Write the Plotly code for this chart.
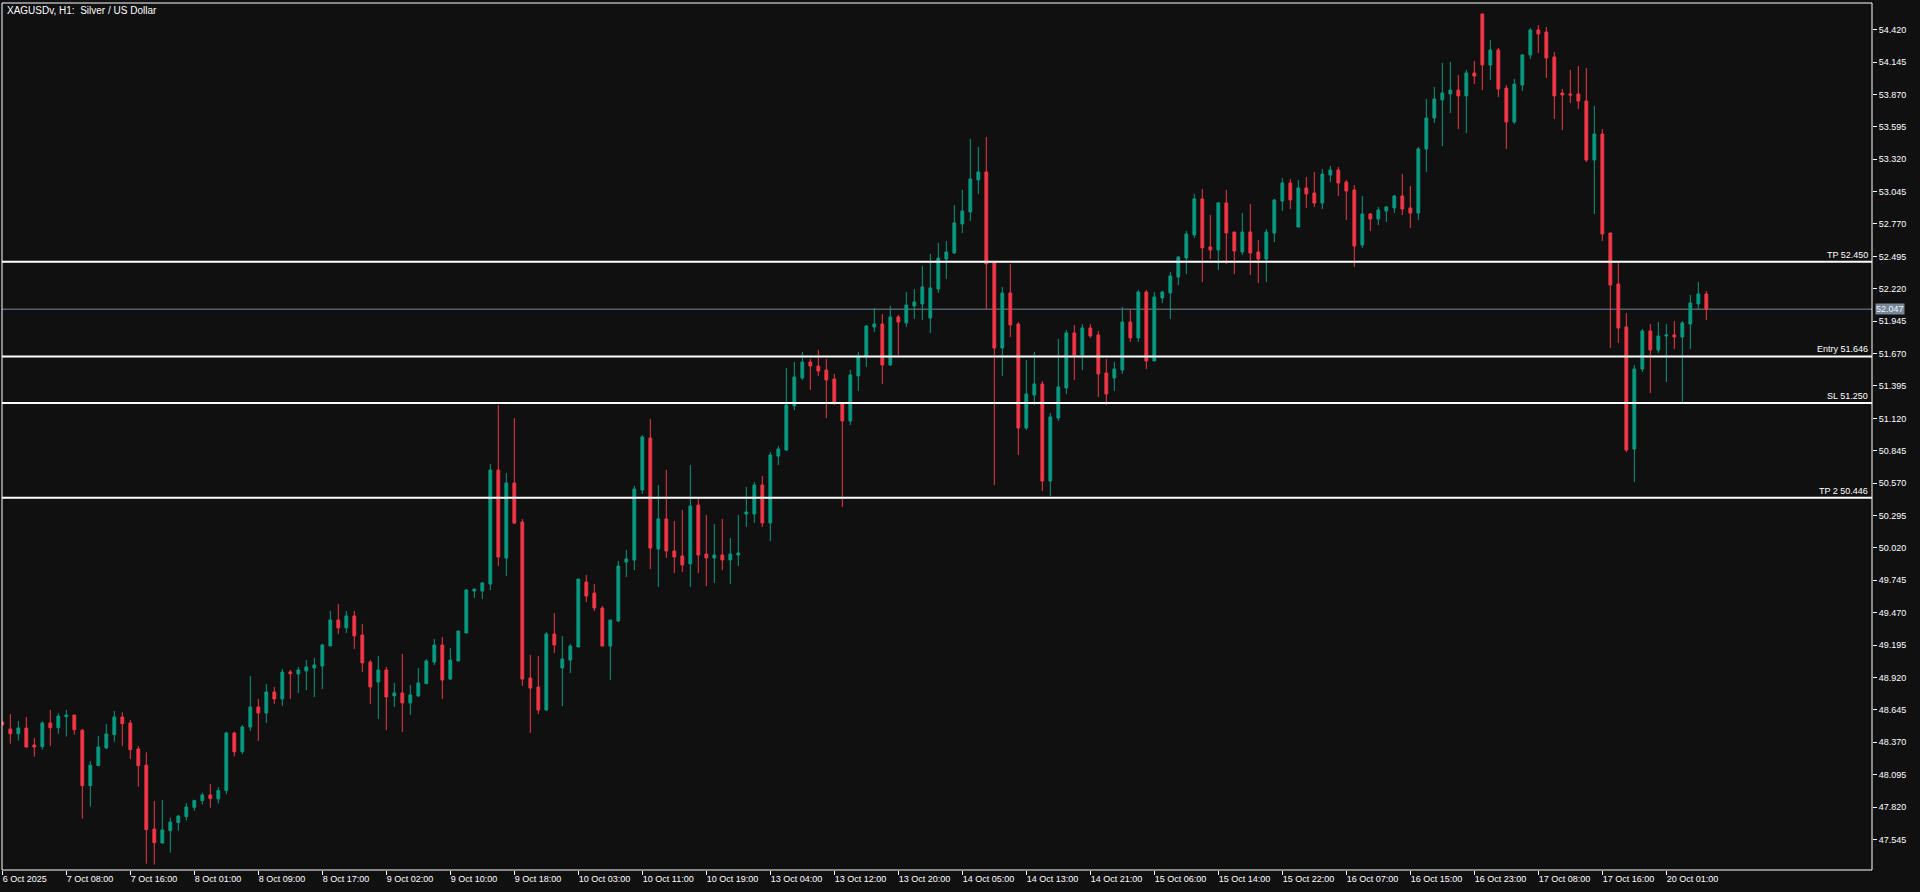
import plotly.graph_objects as go

title_text = "XAGUSDv, H1:\u00a0 Silver / US Dollar"

opens = [48.542, 48.483, 48.443, 48.491, 48.347, 48.333, 48.534, 48.494, 48.588, 48.602,
         48.472, 48.002, 48.172, 48.322, 48.435, 48.585, 48.534, 48.313, 48.175, 47.634,
         47.515, 47.620, 47.688, 47.739, 47.818, 47.875, 47.923, 47.890, 47.960, 48.449,
         48.290, 48.500, 48.670, 48.619, 48.797, 48.738, 48.967, 48.950, 48.976, 49.001,
         49.018, 49.188, 49.409, 49.341, 49.443, 49.281, 49.052, 48.882, 48.984, 48.764,
         48.789, 48.704, 48.764, 48.868, 49.051, 49.196, 48.907, 49.060, 49.298, 49.654,
         49.654, 49.714, 50.681, 49.934, 50.571, 50.240, 48.916, 48.839, 48.644, 49.289,
         49.001, 49.068, 49.179, 49.731, 49.637, 49.510, 49.187, 49.400, 49.900, 49.917,
         50.512, 50.953, 50.011, 50.266, 49.994, 49.952, 49.884, 50.384, 49.968, 49.935,
         49.960, 49.918, 49.960, 50.308, 50.308, 50.554, 50.232, 50.800, 50.851, 51.225,
         51.463, 51.598, 51.564, 51.530, 51.454, 51.250, 51.098, 51.480, 51.641, 51.896,
         51.921, 51.573, 51.981, 51.930, 52.074, 52.091, 51.972, 52.218, 52.473, 52.524,
         52.770, 52.872, 53.144, 53.212, 52.439, 51.717, 52.184, 51.921, 51.038, 51.318,
         51.412, 50.588, 51.123, 51.378, 51.845, 51.658, 51.887, 51.828, 51.505, 51.463,
         51.531, 51.938, 51.803, 52.193, 51.607, 52.142, 52.185, 52.320, 52.482, 52.677,
         52.983, 52.575, 52.550, 52.949, 52.702, 52.533, 52.702, 52.533, 52.473, 52.694,
         52.965, 53.118, 52.744, 53.076, 53.033, 52.948, 53.186, 53.228, 53.126, 53.059,
         52.592, 52.855, 52.812, 52.880, 52.906, 53.008, 52.906, 52.863, 53.407, 53.670,
         53.823, 53.874, 53.907, 53.857, 54.052, 54.553, 54.120, 54.247, 53.924, 53.636,
         53.950, 54.205, 54.417, 54.400, 54.188, 53.882, 53.874, 53.874, 53.814, 53.313,
         53.534, 52.694, 52.261, 51.896, 50.860, 51.539, 51.862, 51.700, 51.819, 51.828,
         51.811, 51.921, 52.091, 52.176]

highs = [48.548, 48.610, 48.551, 48.585, 48.407, 48.548, 48.644, 48.619, 48.644, 48.602,
         48.483, 48.211, 48.424, 48.525, 48.636, 48.624, 48.559, 48.339, 48.285, 47.872,
         47.880, 47.730, 47.753, 47.855, 47.877, 47.942, 48.016, 47.990, 48.458, 48.460,
         48.517, 48.933, 48.738, 48.865, 48.840, 48.993, 48.984, 49.010, 49.069, 49.086,
         49.205, 49.485, 49.545, 49.485, 49.485, 49.375, 49.069, 49.103, 49.010, 48.874,
         49.120, 48.857, 49.001, 49.077, 49.247, 49.264, 49.170, 49.315, 49.671, 49.671,
         49.731, 50.732, 51.233, 50.656, 51.123, 50.265, 49.111, 49.102, 49.306, 49.467,
         49.272, 49.204, 49.756, 49.790, 49.714, 49.527, 49.408, 49.909, 50.002, 50.546,
         50.979, 51.115, 50.554, 50.682, 50.249, 50.342, 50.724, 50.435, 50.300, 50.223,
         50.266, 50.104, 50.300, 50.537, 50.580, 50.631, 50.834, 50.885, 51.547, 51.598,
         51.683, 51.624, 51.700, 51.624, 51.497, 51.250, 51.531, 51.683, 51.913, 52.057,
         52.006, 52.074, 51.998, 52.193, 52.218, 52.414, 52.515, 52.609, 52.626, 52.931,
         53.059, 53.492, 53.424, 53.509, 52.439, 52.235, 52.431, 51.938, 51.616, 51.683,
         51.437, 51.166, 51.794, 51.870, 51.913, 51.921, 51.921, 51.862, 51.624, 51.599,
         52.066, 52.040, 52.210, 52.210, 52.193, 52.202, 52.363, 52.499, 52.711, 53.025,
         53.067, 52.847, 52.957, 53.059, 52.702, 52.864, 52.940, 52.634, 52.727, 52.982,
         53.160, 53.152, 53.143, 53.169, 53.211, 53.237, 53.262, 53.254, 53.143, 53.101,
         53.008, 52.863, 52.914, 52.923, 53.016, 53.194, 53.093, 53.424, 53.831, 53.933,
         54.137, 54.145, 54.035, 54.077, 54.154, 54.553, 54.332, 54.264, 53.950, 54.001,
         54.213, 54.434, 54.459, 54.442, 54.230, 53.916, 54.077, 54.111, 54.094, 53.772,
         53.576, 52.694, 52.447, 52.014, 51.573, 51.879, 51.921, 51.938, 51.921, 51.946,
         51.946, 52.167, 52.278, 52.201]

lows = [48.514, 48.358, 48.384, 48.324, 48.248, 48.307, 48.341, 48.443, 48.418, 48.435,
        47.722, 47.824, 48.172, 48.313, 48.375, 48.341, 48.228, 47.993, 47.340, 47.331,
        47.510, 47.433, 47.620, 47.705, 47.790, 47.841, 47.815, 47.850, 47.930, 48.250,
        48.270, 48.466, 48.382, 48.534, 48.696, 48.679, 48.738, 48.789, 48.814, 48.755,
        48.823, 49.188, 49.290, 49.298, 49.163, 48.967, 48.696, 48.568, 48.475, 48.670,
        48.458, 48.602, 48.755, 48.862, 49.026, 48.737, 48.899, 49.060, 49.298, 49.595,
        49.586, 49.663, 49.866, 49.782, 50.223, 48.848, 48.450, 48.610, 48.635, 49.128,
        48.678, 48.958, 49.179, 49.561, 49.484, 49.187, 48.899, 49.391, 49.773, 49.832,
        50.478, 49.841, 49.688, 49.935, 49.807, 49.816, 49.688, 49.807, 49.697, 49.722,
        49.833, 49.714, 49.867, 50.198, 50.232, 50.198, 50.079, 50.724, 50.843, 51.191,
        51.446, 51.361, 51.480, 51.123, 51.234, 50.367, 51.064, 51.352, 51.556, 51.853,
        51.412, 51.565, 51.658, 51.896, 51.964, 51.955, 51.845, 52.184, 52.303, 52.515,
        52.694, 52.796, 53.025, 52.048, 50.554, 51.480, 51.811, 50.809, 51.021, 51.234,
        50.503, 50.461, 51.098, 51.327, 51.446, 51.531, 51.803, 51.302, 51.234, 51.353,
        51.497, 51.769, 51.769, 51.539, 51.607, 52.100, 51.964, 52.252, 52.346, 52.651,
        52.278, 52.473, 52.380, 52.431, 52.346, 52.507, 52.337, 52.269, 52.278, 52.617,
        52.880, 52.897, 52.744, 52.906, 52.914, 52.897, 53.126, 53.008, 52.804, 52.405,
        52.566, 52.711, 52.761, 52.787, 52.863, 52.846, 52.736, 52.804, 53.211, 53.627,
        53.432, 53.712, 53.576, 53.542, 53.958, 53.907, 53.992, 53.848, 53.407, 53.619,
        53.899, 54.171, 54.222, 54.009, 53.661, 53.568, 53.797, 53.746, 53.296, 52.855,
        52.626, 51.717, 51.760, 50.834, 50.580, 51.514, 51.335, 51.675, 51.429, 51.709,
        51.250, 51.709, 52.048, 51.955]

closes = [48.520, 48.443, 48.491, 48.330, 48.330, 48.534, 48.494, 48.593, 48.602, 48.477,
          48.002, 48.175, 48.330, 48.441, 48.585, 48.528, 48.307, 48.172, 47.628, 47.518,
          47.626, 47.693, 47.744, 47.821, 47.877, 47.923, 47.892, 47.960, 48.449, 48.290,
          48.500, 48.670, 48.619, 48.797, 48.738, 48.967, 48.953, 48.984, 49.010, 49.027,
          49.196, 49.409, 49.341, 49.443, 49.273, 49.044, 48.840, 48.984, 48.755, 48.789,
          48.704, 48.772, 48.874, 49.060, 49.196, 48.899, 49.068, 49.315, 49.663, 49.671,
          49.722, 50.681, 49.943, 50.571, 50.231, 48.907, 48.831, 48.644, 49.289, 49.196,
          49.077, 49.187, 49.756, 49.612, 49.510, 49.187, 49.408, 49.866, 49.926, 50.520,
          50.962, 50.019, 50.266, 49.994, 49.943, 49.875, 50.376, 49.960, 49.935, 49.960,
          49.918, 49.968, 49.977, 50.325, 50.554, 50.232, 50.809, 50.860, 51.233, 51.471,
          51.598, 51.564, 51.522, 51.446, 51.259, 51.098, 51.488, 51.641, 51.904, 51.921,
          51.573, 51.981, 51.938, 52.082, 52.108, 52.235, 52.227, 52.481, 52.532, 52.779,
          52.880, 53.152, 53.212, 52.431, 51.717, 52.184, 51.913, 51.038, 51.327, 51.412,
          50.588, 51.132, 51.387, 51.845, 51.658, 51.887, 51.820, 51.497, 51.327, 51.539,
          51.938, 51.803, 52.193, 51.607, 52.151, 52.193, 52.329, 52.490, 52.685, 52.983,
          52.567, 52.550, 52.949, 52.694, 52.541, 52.702, 52.524, 52.473, 52.702, 52.974,
          53.118, 52.974, 53.076, 53.025, 52.948, 53.194, 53.228, 53.118, 53.050, 52.583,
          52.855, 52.812, 52.889, 52.914, 53.008, 52.897, 52.863, 53.407, 53.670, 53.831,
          53.882, 53.907, 53.857, 54.052, 54.026, 54.120, 54.247, 53.916, 53.636, 53.958,
          54.205, 54.417, 54.383, 54.179, 53.857, 53.865, 53.865, 53.814, 53.313, 53.534,
          52.685, 52.252, 51.887, 50.851, 51.539, 51.862, 51.700, 51.819, 51.828, 51.811,
          51.930, 52.099, 52.176, 52.047]

x_tick_labels = ["6 Oct 2025", "7 Oct 08:00", "7 Oct 16:00", "8 Oct 01:00", "8 Oct 09:00",
                 "8 Oct 17:00", "9 Oct 02:00", "9 Oct 10:00", "9 Oct 18:00", "10 Oct 03:00",
                 "10 Oct 11:00", "10 Oct 19:00", "13 Oct 04:00", "13 Oct 12:00", "13 Oct 20:00",
                 "14 Oct 05:00", "14 Oct 13:00", "14 Oct 21:00", "15 Oct 06:00", "15 Oct 14:00",
                 "15 Oct 22:00", "16 Oct 07:00", "16 Oct 15:00", "16 Oct 23:00", "17 Oct 08:00",
                 "17 Oct 16:00", "20 Oct 01:00"]
bars_per_x_label = 8

y_tick_labels = ["54.420", "54.145", "53.870", "53.595", "53.320", "53.045", "52.770",
                 "52.495", "52.220", "51.945", "51.670", "51.395", "51.120", "50.845",
                 "50.570", "50.295", "50.020", "49.745", "49.470", "49.195", "48.920",
                 "48.645", "48.370", "48.095", "47.820", "47.545"]

level_names = ["TP", "Entry", "SL", "TP 2"]
level_values = [52.450, 51.646, 51.250, 50.446]
bid_price = 52.047

BG = "#101010"
UP = "#089981"
DOWN = "#f23645"
FG = "#ffffff"
BID = "#778899"
FONT = "Liberation Sans, Arial, sans-serif"

bar_index = list(range(len(opens)))

fig = go.Figure(go.Candlestick(
    x=bar_index, open=opens, high=highs, low=lows, close=closes,
    increasing=dict(line=dict(color=UP, width=1), fillcolor=UP),
    decreasing=dict(line=dict(color=DOWN, width=1), fillcolor=DOWN),
    whiskerwidth=0, hoverinfo="skip", showlegend=False,
))

shapes = []
annotations = []
for name, val in zip(level_names, level_values):
    shapes.append(dict(type="line", xref="paper", x0=0, x1=1, yref="y", y0=val, y1=val,
                       line=dict(color=FG, width=2), layer="above"))
    annotations.append(dict(xref="paper", x=1, yref="y", y=val, xanchor="right", yanchor="bottom",
                            text=f"{name} {val:.3f}", showarrow=False, xshift=-2, yshift=0,
                            font=dict(family=FONT, size=9, color=FG)))

shapes.append(dict(type="line", xref="paper", x0=0, x1=1, yref="y", y0=bid_price, y1=bid_price,
                   line=dict(color=BID, width=1), layer="below"))
annotations.append(dict(xref="paper", x=1, yref="y", y=bid_price, xanchor="left", yanchor="middle",
                        text=f"{bid_price:.3f}", showarrow=False, xshift=3, bgcolor=BID, borderpad=0,
                        font=dict(family=FONT, size=9, color="#eef2f6")))

shapes.append(dict(type="rect", xref="paper", yref="paper", x0=0, x1=1, y0=0, y1=1,
                   line=dict(color=FG, width=1), layer="above"))

annotations.append(dict(xref="paper", yref="paper", x=0, y=1, xanchor="left", yanchor="top",
                        text=title_text, showarrow=False, xshift=3, yshift=0,
                        font=dict(family=FONT, size=10, color=FG)))

fig.update_layout(
    width=1920, height=892,
    margin=dict(l=2, r=48, t=3, b=22),
    paper_bgcolor=BG, plot_bgcolor=BG,
    boxgap=0.5,
    shapes=shapes, annotations=annotations,
    xaxis=dict(range=[-0.0375, 233.71], tickvals=[i * bars_per_x_label for i in range(len(x_tick_labels))],
               ticktext=x_tick_labels, ticks="outside", ticklen=4, tickcolor=FG,
               ticklabelposition="outside right",
               tickfont=dict(family=FONT, size=9, color=FG), showgrid=False, zeroline=False,
               showline=False, rangeslider=dict(visible=False), fixedrange=True),
    yaxis=dict(side="right", range=[47.286, 54.646], tickvals=[float(t) for t in y_tick_labels],
               ticktext=y_tick_labels, ticks="outside", ticklen=4, tickcolor=FG,
               tickfont=dict(family=FONT, size=9, color=FG), showgrid=False, zeroline=False,
               showline=False, fixedrange=True),
)

fig.write_html("out.html", config={"displayModeBar": False},
               post_script="document.body.style.margin='0';document.body.style.overflow='hidden';")
